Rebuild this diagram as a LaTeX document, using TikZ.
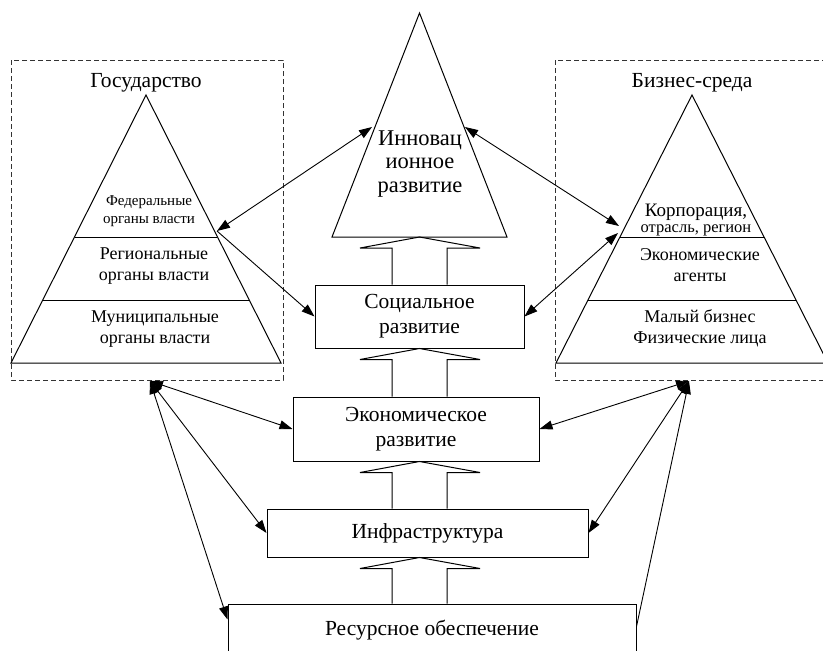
\documentclass[tikz,border=0pt]{standalone}
\usepackage{fontspec}
\setmainfont{Liberation Serif}
\usetikzlibrary{arrows.meta,calc}

\tikzset{
  blok/.style={draw, line width=1pt, align=center, inner sep=0pt, font=\fontsize{21.5}{25}\selectfont},
  uroven/.style={align=center, font=\fontsize{18}{21}\selectfont},
  zagolovok/.style={font=\fontsize{21.5}{24}\selectfont},
  ramka/.style={draw=black!80, line width=1pt, dash pattern=on 5pt off 3pt},
  piramida/.style={draw, line width=1pt},
  svyaz/.style={line width=0.9pt, {Triangle[length=13pt,width=9pt]}-{Triangle[length=13pt,width=9pt]}},
  svyazodin/.style={line width=0.9pt, -{Triangle[length=13pt,width=9pt]}},
  polosa/.style={draw, line width=1pt},
}

\begin{document}
\begin{tikzpicture}[x=1pt,y=-1pt]
\useasboundingbox (0,0) rectangle (823,651);

\draw[ramka] (11,60) rectangle (283,380);
\draw[ramka] (555,60) rectangle (827,380);

\draw[piramida] (146,95) -- (11,363) -- (281,363) -- cycle;
\draw[piramida] (75,237) -- (217,237) (43,300) -- (249,300);
\draw[piramida] (692,95) -- (556,363) -- (828,363) -- cycle;
\draw[piramida] (620,237) -- (764,237) (588,300) -- (796,300);
\draw[piramida] (419.5,13) -- (332,237) -- (507,237) -- cycle;

\node[zagolovok] (gosud) at (146,83) {Государство};
\node[zagolovok] (biznes) at (692,83) {Бизнес-среда};
\node[uroven, font=\fontsize{15}{18}\selectfont] (fed) at (149,211) {Федеральные\\органы власти};
\node[uroven] (reg) at (154,266) {Региональные\\органы власти};
\node[uroven] (mun) at (155,329) {Муниципальные\\органы власти};
\node[uroven, font=\fontsize{16.5}{16}\selectfont] (korp) at (696,220) {{\fontsize{19}{16}\selectfont Корпорация,}\\отрасль, регион};
\node[uroven] (agent) at (700,265) {Экономические\\агенты};
\node[uroven] (maly) at (700,328) {Малый бизнес\\Физические лица};
\node[uroven, font=\fontsize{22.5}{23.5}\selectfont] (inn) at (420,164) {Инновац\\ионное\\развитие};

\node[blok, minimum width=209pt, minimum height=63pt] (soc) at (419.5,316.5) {Социальное\\развитие};
\node[blok, minimum width=246pt, minimum height=64pt] (eko) at (416,429) {Экономическое\\развитие};
\node[blok, minimum width=321pt, minimum height=48pt] (inf) at (427.5,533) {Инфраструктура};
\node[blok, minimum width=408pt, minimum height=52pt] (res) at (432,630) {Ресурсное обеспечение};

\coordinate (fedt) at (217,231);
\coordinate (innL) at (372,127);
\coordinate (innR) at (465,127);
\coordinate (korpA) at (619,226);
\coordinate (korpB) at (618,233);
\coordinate (gosniz) at (150,381);
\coordinate (bizniz) at (689,381);
\coordinate (os) at (419.5,0);
\coordinate (innbase) at (419.5,237);

\foreach \lo/\hi in {soc.north/innbase, eko.north/soc.south, inf.north/eko.south, res.north/inf.south}
  \draw[polosa] ($(os |- \lo)+(-27.5,0)$) -- ($(os |- \hi)+(-27.5,11)$) -- ($(os |- \hi)+(-59.5,11)$)
    -- (os |- \hi) -- ($(os |- \hi)+(60.5,11)$) -- ($(os |- \hi)+(27.5,11)$) -- ($(os |- \lo)+(27.5,0)$);

\draw[svyaz] (fedt) -- (innL);
\draw[svyazodin] (fedt) -- (soc.west);
\draw[svyaz] (innR) -- (korpA);
\draw[svyaz] (soc.east) -- (korpB);
\foreach \k in {eko.west, inf.west}
  \draw[svyaz] (gosniz) -- (\k);
\draw[svyaz] (gosniz) -- ([yshift=-16pt]res.north west);
\foreach \k in {eko.east, inf.east}
  \draw[svyaz] (bizniz) -- (\k);
\draw[svyazodin] ([yshift=-23pt]res.north east) -- (bizniz);
\end{tikzpicture}
\end{document}
